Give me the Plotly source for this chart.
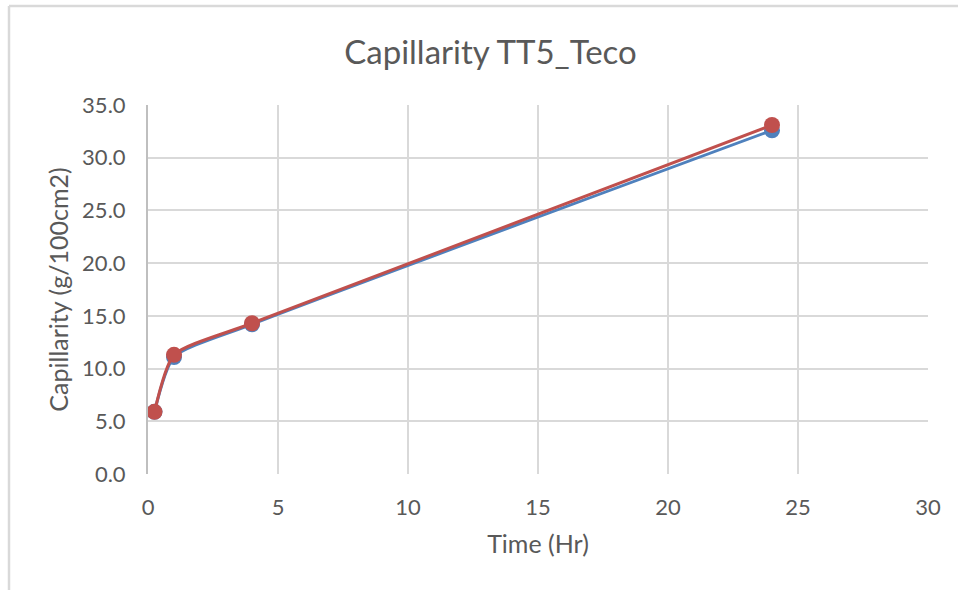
import plotly.graph_objects as go

time_hr = [0.25, 1, 4, 24]
series_blue = [5.9, 11.1, 14.2, 32.6]
series_red = [5.9, 11.3, 14.3, 33.1]
x_ticks = [0, 5, 10, 15, 20, 25, 30]
y_ticks = [0, 5, 10, 15, 20, 25, 30, 35]

FONT = "Lato"
GREY = "#595959"

fig = go.Figure()
fig.add_trace(go.Scatter(
    x=time_hr, y=series_blue, mode="lines+markers",
    line=dict(color="#4F81BD", width=3, shape="spline", smoothing=0.6),
    marker=dict(size=16, color="#4F81BD"), name="Blue", showlegend=False))
fig.add_trace(go.Scatter(
    x=time_hr, y=series_red, mode="lines+markers",
    line=dict(color="#C0504D", width=3, shape="spline", smoothing=0.6),
    marker=dict(size=16, color="#C0504D"), name="Red", showlegend=False))

fig.update_layout(
    width=958, height=590,
    margin=dict(l=148, r=30, t=105, b=116),
    paper_bgcolor="white", plot_bgcolor="white",
    font=dict(family=FONT, color=GREY, size=22),
    title=dict(text="Capillarity TT5_Teco", x=0.512, xanchor="center",
               y=1 - 52 / 590, yanchor="middle", yref="container",
               font=dict(size=33, color=GREY, family=FONT)),
    xaxis=dict(range=[0, 30], tickvals=x_ticks, showgrid=True, gridcolor="#d9d9d9",
               gridwidth=2, zeroline=False, showline=False,
               tickfont=dict(size=22, color=GREY), ticklabelstandoff=18,
               title=dict(text="Time (Hr)", font=dict(size=25, color=GREY), standoff=16)),
    yaxis=dict(range=[0, 35], tickvals=y_ticks, tickformat=".1f", showgrid=True,
               gridcolor="#d9d9d9", gridwidth=2, zeroline=False,
               showline=True, linecolor="#bfbfbf", linewidth=2,
               tickfont=dict(size=22, color=GREY), ticklabelstandoff=16,
               title=dict(text="Capillarity (g/100cm2)", font=dict(size=25, color=GREY), standoff=6)),
    shapes=[
        dict(type="line", xref="paper", yref="paper",
             x0=(9 - 148) / 780, x1=(958 - 148) / 780 + 0.01,
             y0=(474 - 6) / 369, y1=(474 - 6) / 369,
             line=dict(color="#d9d9d9", width=2.5)),
        dict(type="line", xref="paper", yref="paper",
             x0=(9 - 148) / 780, x1=(9 - 148) / 780,
             y0=(474 - 6) / 369, y1=(474 - 600) / 369,
             line=dict(color="#d9d9d9", width=2.5)),
    ],
)

fig.write_html("out.html", config={"displayModeBar": False},
               post_script="document.body.style.margin='0';")
